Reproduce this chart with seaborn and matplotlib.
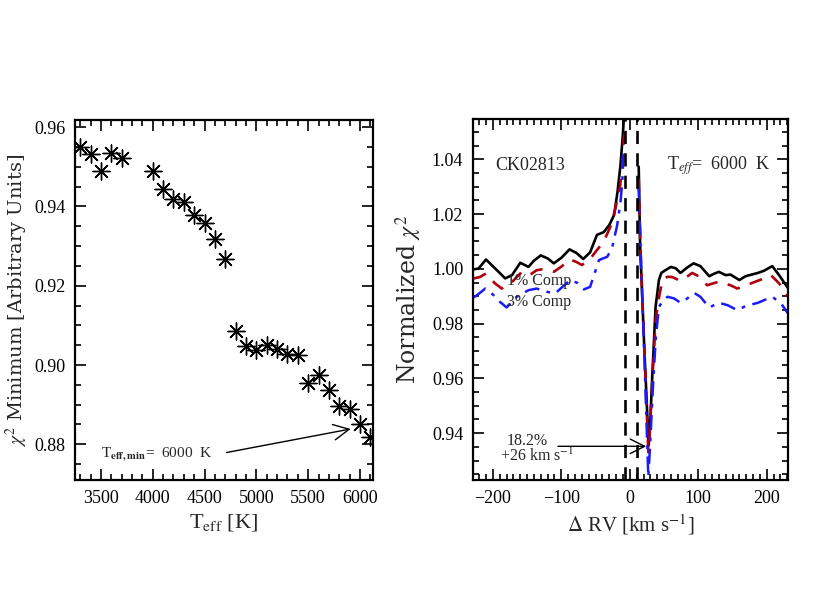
import numpy as np
import pandas as pd
import matplotlib
matplotlib.use("Agg")
import matplotlib.pyplot as plt
from matplotlib.ticker import MultipleLocator
import seaborn as sns

# ---------------- data ----------------
teff = [3300, 3400, 3500, 3600, 3700, 4000, 4100, 4200, 4300, 4400, 4500, 4600, 4700,
        4800, 4900, 5000, 5100, 5200, 5300, 5400, 5500, 5600, 5700, 5800, 5900, 6000, 6100, 6200]
chi2_min = [0.9551, 0.9533, 0.9489, 0.9535, 0.9521, 0.9489, 0.9444, 0.9419, 0.9410, 0.9379,
            0.9357, 0.9318, 0.9267, 0.9086, 0.9049, 0.9038, 0.9051, 0.9040, 0.9028, 0.9025,
            0.8955, 0.8975, 0.8938, 0.8896, 0.8890, 0.8850, 0.8819, 0.8755]

rv_black = [-228, -221, -210, -199, -190, -182, -172, -160, -148, -140, -130, -120, -111, -100,
            -88, -78, -68, -58, -48, -38, -30, -23, -18, -13.6, -10.2, -8.5, -7.5,
            13, 15, 21, 27.5, 30, 33, 37.6, 42.5, 46, 52, 60, 67, 74, 84, 93, 103, 116, 123,
            130, 140, 147, 160, 169, 187, 196, 208, 218, 233]
chi_black = [0.9998, 1.0001, 1.0034, 1.0007, 0.9985, 0.9965, 0.9977, 1.0022, 1.0007, 1.0030,
             1.0049, 1.0038, 1.0020, 1.0040, 1.0071, 1.0058, 1.0036, 1.0060, 1.0124, 1.0134,
             1.0160, 1.0196, 1.0280, 1.0379, 1.0489, 1.0560, 1.0650,
             1.0373, 1.0090, 0.9720, 0.9355, 0.9450, 0.9620, 0.9860, 0.9959, 0.9985, 0.9995,
             1.0007, 1.0002, 0.9985, 1.0005, 1.0020, 1.0010, 0.9973, 0.9982,
             0.9989, 0.9977, 0.9979, 0.9959, 0.9973, 0.9985, 0.9993, 1.0010, 0.9977, 0.9922]

rv_red = [-228, -219, -210, -197, -187, -172, -160, -150, -136, -128, -111, -100, -87, -78,
          -70, -60, -50, -38, -28, -21, -14.6, -11, -8.8, -7.3,
          13, 15.5, 21, 27, 29, 33, 38, 43, 47.4, 55, 62, 74, 84, 91, 103, 113, 122, 130,
          147, 157, 177, 196, 206, 218, 233]
chi_red = [0.9965, 0.9970, 0.9983, 0.9947, 0.9928, 0.9952, 0.9983, 0.9971, 0.9995, 0.9998,
           0.9989, 1.0008, 1.0034, 1.0025, 1.0014, 1.0030, 1.0062, 1.0100, 1.0156, 1.0221,
           1.0294, 1.0379, 1.0477, 1.0496,
           1.0330, 1.0080, 0.9720, 0.9330, 0.9400, 0.9600, 0.9820, 0.9900, 0.9959, 0.9971,
           0.9970, 0.9956, 0.9972, 0.9985, 0.9970, 0.9940, 0.9947, 0.9953,
           0.9940, 0.9928, 0.9947, 0.9965, 0.9977, 0.9947, 0.9892]

rv_blue = [-228, -219, -211, -199, -190, -180, -165, -148, -136, -121, -109, -98, -87, -77,
           -67, -58, -45, -33, -26, -18.4, -13.6, -11, -8.8,
           13, 16, 21, 27, 29.5, 34, 38, 42.5, 47.4, 55, 64.5, 74, 84, 94, 103, 116, 130,
           143, 157, 169, 187, 208, 221, 233]
chi_blue = [0.9895, 0.9912, 0.9928, 0.9904, 0.9880, 0.9859, 0.9898, 0.9922, 0.9928, 0.9916,
            0.9910, 0.9935, 0.9959, 0.9949, 0.9925, 0.9934, 1.0032, 1.0044, 1.0075, 1.0160,
            1.0245, 1.0318, 1.0440,
            1.0300, 1.0050, 0.9700, 0.9240, 0.9350, 0.9580, 0.9750, 0.9861, 0.9879, 0.9898,
            0.9892, 0.9876, 0.9892, 0.9912, 0.9898, 0.9859, 0.9876,
            0.9867, 0.9849, 0.9864, 0.9876, 0.9898, 0.9873, 0.9830]

excluded_rv = [-7.5, 10]
best_rv = 26
best_chi = 0.9352

# ---------------- style ----------------
sns.set_theme(style="ticks")
plt.rcParams['font.family'] = ['Liberation Serif', 'DejaVu Serif']
plt.rcParams['mathtext.fontset'] = 'stix'

fig = plt.figure(figsize=(8.3, 6.0), dpi=100)
ax1 = fig.add_axes([75 / 830, 1 - 480 / 600, 298 / 830, 360 / 600])
ax2 = fig.add_axes([473 / 830, 1 - 480 / 600, 315 / 830, 361 / 600])


def idl_axes(ax, xmaj, xmin, ymaj, ymin):
    ax.xaxis.set_major_locator(MultipleLocator(xmaj))
    ax.xaxis.set_minor_locator(MultipleLocator(xmin))
    ax.yaxis.set_major_locator(MultipleLocator(ymaj))
    ax.yaxis.set_minor_locator(MultipleLocator(ymin))
    ax.tick_params(which='both', direction='in', top=True, right=True, colors='black',
                   labelsize=13, width=1.2, pad=7)
    ax.tick_params(which='major', length=8)
    ax.tick_params(which='minor', length=4)
    for s in ax.spines.values():
        s.set_linewidth(1.6)
        s.set_color('black')


# ---------------- left panel ----------------
df1 = pd.DataFrame({'teff': teff, 'chi2': chi2_min})
sns.scatterplot(data=df1, x='teff', y='chi2', ax=ax1, marker=(8, 2, 0), s=150,
                color='black', linewidth=1.0, clip_on=True, legend=False)
sns.scatterplot(data=df1, x='teff', y='chi2', ax=ax1, marker='o', s=7,
                color='black', linewidth=0, legend=False)
ax1.set_xlim(3250, 6125)
ax1.set_ylim(0.871, 0.9618)
idl_axes(ax1, 500, 100, 0.02, 0.005)
ax1.set_xlabel(r'T$_{\rm eff}$ [K]', fontsize=16, labelpad=4)
ax1.set_ylabel(r'$\chi^2$ Minimum [Arbitrary Units]', fontsize=14, labelpad=3,
               family=['DejaVu Serif'])
ax1.annotate('', xy=(5936, 0.8840), xytext=(4686, 0.8778),
             arrowprops=dict(arrowstyle='->', color='black', lw=1.0,
                             mutation_scale=28))
ax1.text(3500, 0.8776, r'T$_{\mathbf{eff,min}}$=  6000  K', fontsize=11,
         ha='left', va='center')

# ---------------- right panel ----------------
def curve_df(xs, ys):
    return pd.DataFrame({'rv': xs, 'chi': ys,
                         'seg': ['L' if v < 0 else 'R' for v in xs]})


sns.lineplot(data=curve_df(rv_black, chi_black), x='rv', y='chi', units='seg',
             estimator=None, ax=ax2, color='black', lw=1.9)
sns.lineplot(data=curve_df(rv_red, chi_red), x='rv', y='chi', units='seg',
             estimator=None, ax=ax2, color='#b0000f', lw=1.9, linestyle=(0, (5, 4)))
sns.lineplot(data=curve_df(rv_blue, chi_blue), x='rv', y='chi', units='seg',
             estimator=None, ax=ax2, color='#1a1aff', lw=1.8,
             linestyle=(0, (6, 3, 1.5, 3)))
for xv in excluded_rv:
    ax2.axvline(xv, color='black', lw=1.9, linestyle=(0, (5, 3.5)))

ax2.set_xlim(-229, 231)
ax2.set_ylim(0.9229, 1.0547)
idl_axes(ax2, 100, 10, 0.02, 0.005)
ax2.set_xlabel(r'$\Delta$ RV [km s$^{-1}$]', fontsize=15, labelpad=4)
ax2.set_ylabel(r'Normalized $\chi^2$', fontsize=17, labelpad=6,
               family=['DejaVu Serif'])

ax2.text(0.07, 0.87, 'CK02813', transform=ax2.transAxes, fontsize=13,
         ha='left', va='center')
ax2.text(0.615, 0.87, r'T$_{\mathit{eff}}$=  6000  K', transform=ax2.transAxes,
         fontsize=13, ha='left', va='center')
ax2.text(-180, 0.9955, '1% Comp', fontsize=11.5, ha='left', va='center')
ax2.text(-180, 0.9878, '3% Comp', fontsize=11.5, ha='left', va='center')
ax2.text(-150, 0.9372, '18.2%', fontsize=11.5, ha='center', va='center')
ax2.text(-136, 0.9317, r'+26 km s$^{-1}$', fontsize=11.5, ha='center', va='center')
ax2.annotate('', xy=(best_rv + 2, best_chi), xytext=(-109, best_chi),
             arrowprops=dict(arrowstyle='->', color='black', lw=1.0,
                             mutation_scale=26))
ax2.set_xticks([-200, -100, 0, 100, 200])
ax2.set_xticklabels(['\u2212200', '\u2212100', '0', '100', '200'])

fig.savefig('out.png', dpi=100)
